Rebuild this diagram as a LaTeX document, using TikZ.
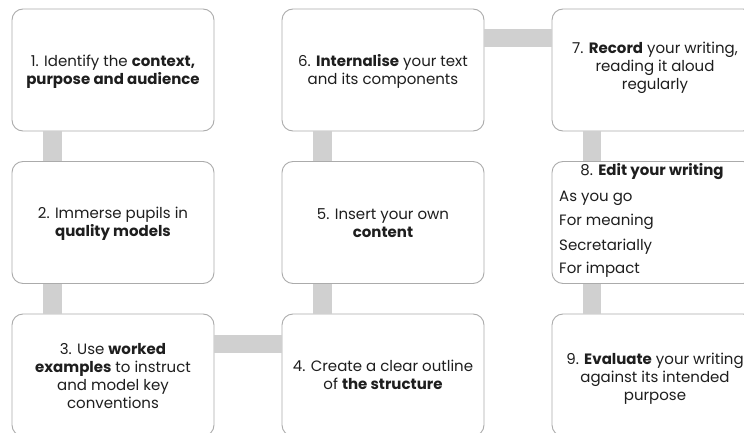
\documentclass[tikz,border=0pt]{standalone}
\usepackage{fontspec}
\setmainfont{Poppins}
\definecolor{boxline}{HTML}{ABABAB}
\definecolor{conn}{HTML}{D0D0D0}
\definecolor{txt}{HTML}{1E1E1E}
\tikzset{
  stepbox/.style={draw=boxline, line width=0.9pt, fill=white, rounded corners=11pt,
    minimum width=202pt, minimum height=122pt, inner sep=0pt,
    text=txt, align=center, font=\fontsize{15}{18}\selectfont},
  link/.style={draw=conn, line width=18.5pt},
  listtxt/.style={text=txt, font=\fontsize{15}{18}\selectfont, inner sep=0pt, anchor=west},
  steptxt/.style={text=txt, align=center, font=\fontsize{15}{18}\selectfont, inner sep=0pt}
}
\begin{document}
\begin{tikzpicture}[x=1pt,y=1pt]
\useasboundingbox (0,0) rectangle (744,432);
\clip (0,0) rectangle (744,432);
\node[stepbox] (b1) at (113,362) {};
\node[stepbox] (b2) at (113,209.5) {};
\node[stepbox] (b3) at (113,57) {};
\node[stepbox] (b4) at (383,57) {};
\node[stepbox] (b5) at (383,209.5) {};
\node[stepbox] (b6) at (383,362) {};
\node[stepbox] (b7) at (653,362) {};
\node[stepbox] (b8) at (653,209.5) {};
\node[stepbox] (b9) at (653,57) {};
\node[steptxt] (t1) at (113,360) {1. Identify the \textbf{context,}\\\textbf{purpose and audience}};
\node[steptxt] (t2) at (113,208.5) {2. Immerse pupils in\\\textbf{quality models}};
\node[steptxt] (t3) at (113,56) {3. Use \textbf{worked}\\\textbf{examples} to instruct\\and model key\\conventions};
\node[steptxt] (t4) at (383,57) {4. Create a clear outline\\of \textbf{the structure}};
\node[steptxt] (t5) at (383,208.5) {5. Insert your own\\\textbf{content}};
\node[steptxt] (t6) at (383,361) {6. \textbf{Internalise} your text\\and its components};
\node[steptxt] (t7) at (655,364) {7. \textbf{Record} your writing,\\reading it aloud\\regularly};
\node[steptxt] (t9) at (655,53) {9. \textbf{Evaluate} your writing\\against its intended\\purpose};
\node[steptxt] (t8) at (652,260) {8. \textbf{Edit your writing}};
\node[listtxt] (l1) at (559,234) {As you go};
\node[listtxt] (l2) at (559,210) {For meaning};
\node[listtxt] (l3) at (559,185) {Secretarially};
\node[listtxt] (l4) at (559,162) {For impact};
\draw[link] ([xshift=-60.5pt]b1.south) -- ([xshift=-60.5pt]b2.north);
\draw[link] ([xshift=-60.5pt]b2.south) -- ([xshift=-60.5pt]b3.north);
\draw[link] ([yshift=31pt]b3.east) -- ([yshift=31pt]b4.west);
\draw[link] ([xshift=-60.5pt]b4.north) -- ([xshift=-60.5pt]b5.south);
\draw[link] ([xshift=-60.5pt]b5.north) -- ([xshift=-60.5pt]b6.south);
\draw[link] ([yshift=32pt]b6.east) -- ([yshift=32pt]b7.west);
\draw[link] ([xshift=-61pt]b7.south) -- ([xshift=-61pt]b8.north);
\draw[link] ([xshift=-61pt]b8.south) -- ([xshift=-61pt]b9.north);
\end{tikzpicture}
\end{document}
